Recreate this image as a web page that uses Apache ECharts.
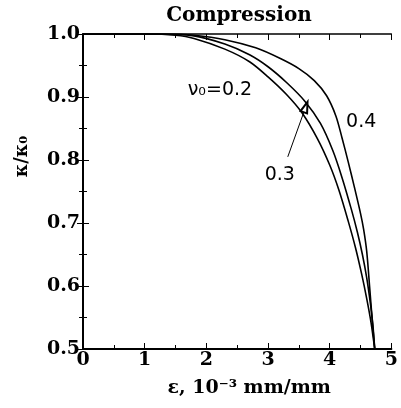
<!DOCTYPE html>
<html>
<head>
<meta charset="utf-8">
<script src="https://cdn.jsdelivr.net/npm/echarts@6/dist/echarts.min.js"></script>
<style>
  html, body { margin: 0; padding: 0; background: #fff; }
  #chart { width: 401px; height: 408px; }
</style>
</head>
<body>
<div id="chart"></div>
<script>
// strain (10^-3 mm/mm) vs kappa/kappa0, one curve per nu0
var nu02 = [[0, 1.0], [1.05, 1.0], [1.5, 0.998], [1.8, 0.993], [2.3, 0.976], [2.7, 0.956], [3.0, 0.932],
            [3.3, 0.904], [3.55, 0.875], [3.8, 0.834], [4.0, 0.792], [4.15, 0.752], [4.3, 0.703],
            [4.42, 0.660], [4.52, 0.618], [4.6, 0.580], [4.67, 0.542], [4.73, 0.50]];
var nu03 = [[0, 1.0], [1.2, 1.0], [1.8, 0.997], [2.3, 0.984], [2.7, 0.967], [3.0, 0.948], [3.3, 0.923],
            [3.6, 0.893], [3.85, 0.858], [4.05, 0.815], [4.2, 0.772], [4.35, 0.722], [4.45, 0.685],
            [4.53, 0.650], [4.6, 0.613], [4.66, 0.572], [4.7, 0.538], [4.73, 0.50]];
var nu04 = [[0, 1.0], [1.4, 1.0], [1.8, 0.998], [2.3, 0.991], [2.8, 0.978], [3.2, 0.961], [3.5, 0.945],
            [3.75, 0.926], [3.95, 0.902], [4.1, 0.870], [4.2, 0.835], [4.3, 0.797], [4.4, 0.757],
            [4.5, 0.715], [4.55, 0.690], [4.6, 0.655], [4.65, 0.595], [4.69, 0.545], [4.73, 0.50]];
var curveNames = ['0.2', '0.3', '0.4'];

var serif = '"DejaVu Serif", "Liberation Serif", serif';
var sans = '"DejaVu Sans", "Liberation Sans", sans-serif';

var tickLbl = { fontFamily: serif, fontWeight: 'bold', fontSize: 19, color: '#000' };
var axLine = { lineStyle: { color: '#000', width: 2 } };
var tickIn = { inside: true, length: 6, lineStyle: { color: '#000', width: 1 } };
var minorIn = { show: true, splitNumber: 2, length: 4, lineStyle: { color: '#000', width: 1 } };

function curve(name, data) {
    return {
        name: name,
        type: 'line',
        data: data,
        smooth: 0.3,
        showSymbol: false,
        silent: true,
        lineStyle: { color: '#000', width: 1.6 },
        xAxisIndex: 0,
        yAxisIndex: 0
    };
}

// text label hung on a data coordinate
function note(coord, text) {
    return {
        silent: true,
        symbol: 'circle',
        symbolSize: 1,
        itemStyle: { color: 'rgba(0,0,0,0)' },
        data: [{
            coord: coord,
            label: { show: true, position: 'inside', formatter: text, fontFamily: sans, fontSize: 19, color: '#000' }
        }]
    };
}

var s2 = curve(curveNames[0], nu02);
s2.markPoint = note([2.22, 0.911], 'ν₀=0.2');
var s3 = curve(curveNames[1], nu03);
s3.markPoint = note([3.19, 0.776], '0.3');
s3.markLine = {
    silent: true,
    symbol: ['none', 'emptyTriangle'],
    symbolSize: [7, 11],
    label: { show: false },
    lineStyle: { color: '#000', width: 1, type: 'solid' },
    data: [[{ coord: [3.32, 0.805] }, { coord: [3.61, 0.884] }]]
};
var s4 = curve(curveNames[2], nu04);
s4.markPoint = note([4.51, 0.86], '0.4');

var chart = echarts.init(document.getElementById('chart'));
chart.setOption({
    animation: false,
    backgroundColor: '#fff',
    title: {
        text: 'Compression',
        left: 234,
        textAlign: 'center',
        top: 1,
        textStyle: { fontFamily: serif, fontWeight: 'bold', fontSize: 20, color: '#000' }
    },
    grid: { left: 83, top: 34, right: 2, bottom: 59, containLabel: false },
    xAxis: [{
        type: 'value', min: 0, max: 5, interval: 1,
        axisLine: axLine, axisTick: tickIn, minorTick: minorIn,
        splitLine: { show: false },
        axisLabel: Object.assign({ margin: 2 }, tickLbl),
        name: 'ε, 10⁻³ mm/mm', nameLocation: 'middle', nameGap: 30,
        nameTextStyle: { fontFamily: serif, fontWeight: 'bold', fontSize: 19, color: '#000', padding: [0, 0, 0, 24] }
    }, {
        type: 'value', min: 0, max: 5, interval: 1, position: 'top',
        axisLine: { lineStyle: { color: '#000', width: 1.5 } }, axisTick: tickIn, minorTick: minorIn,
        splitLine: { show: false }, axisLabel: { show: false }
    }],
    yAxis: [{
        type: 'value', min: 0.5, max: 1.0, interval: 0.1,
        axisLine: axLine, axisTick: tickIn, minorTick: minorIn,
        splitLine: { show: false },
        axisLabel: Object.assign({ margin: 3, formatter: function (v) { return v.toFixed(1); } }, tickLbl),
        name: 'κ/κ₀', nameLocation: 'middle', nameGap: 52,
        nameTextStyle: { fontFamily: serif, fontWeight: 'bold', fontSize: 18, color: '#000', padding: [0, 0, 0, 70] }
    }, {
        type: 'value', min: 0.5, max: 1.0, interval: 0.1, position: 'right',
        axisLine: { lineStyle: { color: '#000', width: 1.5 } }, axisTick: tickIn, minorTick: minorIn,
        splitLine: { show: false }, axisLabel: { show: false }
    }],
    series: [s2, s3, s4]
});
</script>
</body>
</html>
